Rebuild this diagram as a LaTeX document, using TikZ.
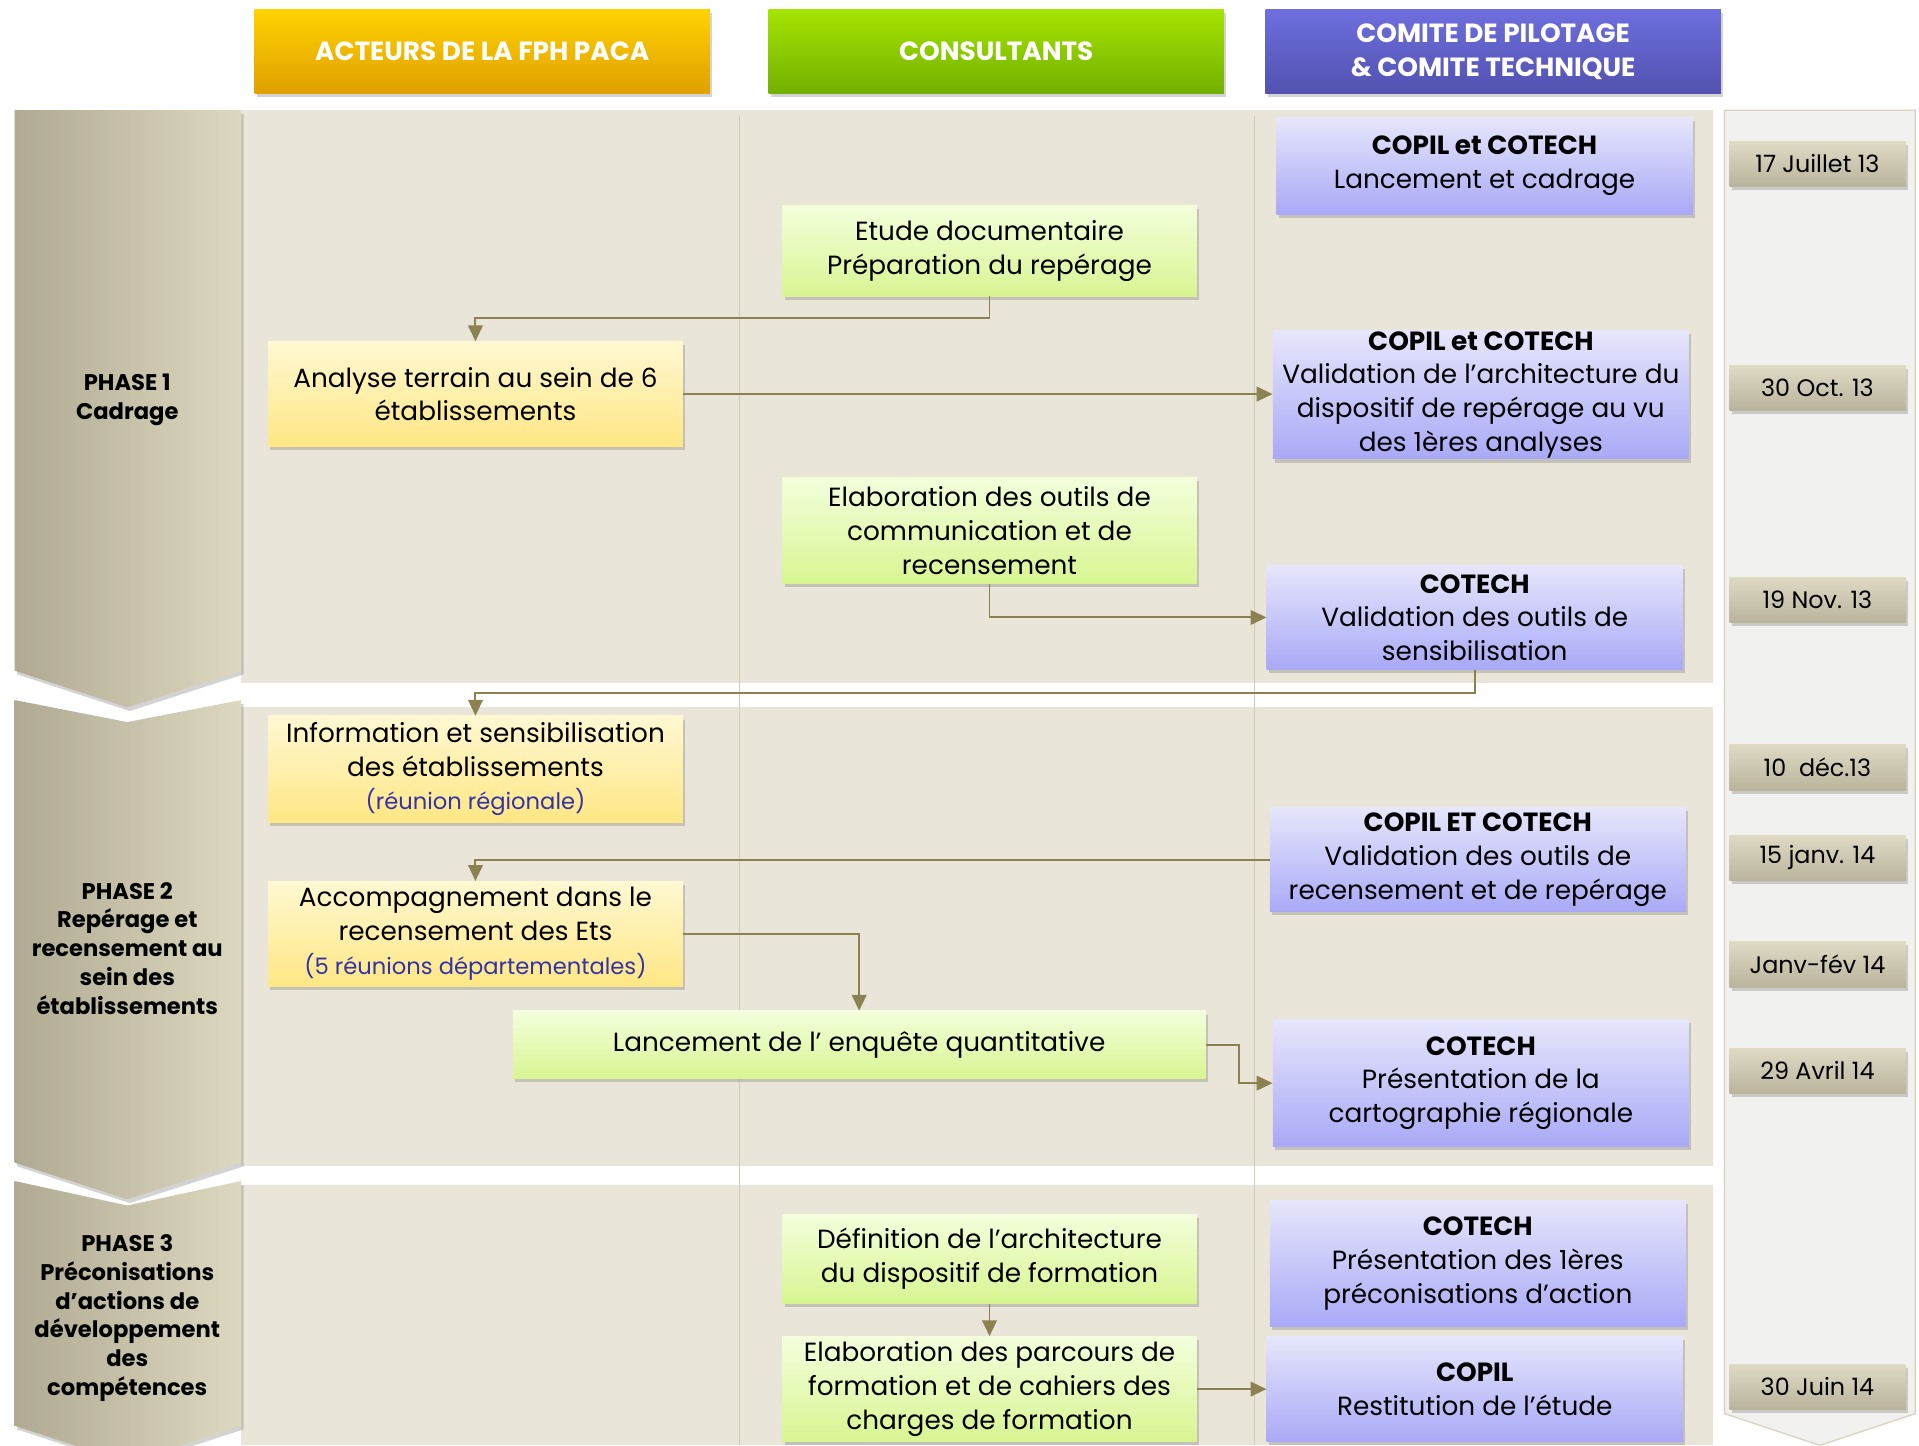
\documentclass[tikz,border=0pt]{standalone}
\usepackage{fontspec}
\setmainfont{Poppins}
\usetikzlibrary{shapes,arrows.meta,calc,positioning,shadows}

\definecolor{band}{HTML}{E9E5D9}
\definecolor{sepline}{HTML}{D2CBB4}
\definecolor{flowcol}{HTML}{8C8150}
\definecolor{phaseA}{HTML}{B0AA92}
\definecolor{phaseB}{HTML}{DDD8C0}
\definecolor{tabA}{HTML}{DEDAC4}
\definecolor{tabB}{HTML}{BAB49C}
\definecolor{datebg}{HTML}{F1F1F0}
\definecolor{datebd}{HTML}{D6D0BC}
\definecolor{yelA}{HTML}{FFF8D2}
\definecolor{yelB}{HTML}{FFE784}
\definecolor{grnA}{HTML}{F3FFDC}
\definecolor{grnB}{HTML}{D8F592}
\definecolor{purA}{HTML}{E6E6FC}
\definecolor{purB}{HTML}{A9A9F7}
\definecolor{noteblue}{HTML}{3333A8}
\definecolor{hdrorA}{HTML}{FFD200}
\definecolor{hdrorB}{HTML}{E0A000}
\definecolor{hdrgrA}{HTML}{A6E400}
\definecolor{hdrgrB}{HTML}{72B000}
\definecolor{hdrpuA}{HTML}{6E6EDE}
\definecolor{hdrpuB}{HTML}{5252B0}

\begin{document}
\begin{tikzpicture}[%
    x=1pt,
    y=-1pt,
    >={Triangle[length=13pt,width=12pt]},
    softshadow/.style={drop shadow={shadow xshift=2pt, shadow yshift=-3pt, opacity=0.35}},
    box/.style={rectangle, align=center, inner sep=0pt, softshadow,
      font=\fontsize{21.5}{27.5}\selectfont},
    actor/.style={box, top color=yelA, bottom color=yelB, minimum width=339pt},
    consult/.style={box, top color=grnA, bottom color=grnB, minimum width=339pt},
    comite/.style={box, top color=purA, bottom color=purB, minimum width=340pt},
    header/.style={rectangle, align=center, minimum width=372pt, minimum height=68pt,
      text=white, softshadow, font=\bfseries\fontsize{21.5}{28}\selectfont},
    datetab/.style={rectangle, minimum width=144pt, minimum height=37pt,
      top color=tabA, bottom color=tabB, softshadow, font=\fontsize{19.5}{22}\selectfont},
    phaselabel/.style={align=center, font=\bfseries\fontsize{18.5}{23.6}\selectfont},
    note/.style={text=noteblue},
    flow/.style={->, flowcol, line width=1.6pt}
  ]
  \useasboundingbox (0,0) rectangle (1568,1181);

  \fill[band] (197,90) rectangle (1400,558);
  \fill[band] (197,578) rectangle (1400,953);
  \fill[band] (197,968) rectangle (1400,1181);
  \draw[sepline, line width=1pt] (604,95) -- (604,1181);
  \draw[sepline, line width=1pt] (1025,95) -- (1025,1181);

  \shade[left color=phaseA, right color=phaseB, softshadow]
    (12,90) -- (197,90) -- (197,548) -- (104,578) -- (12,548) -- cycle;
  \shade[left color=phaseA, right color=phaseB, softshadow]
    (12,572) -- (104,590) -- (197,572) -- (197,950) -- (104,980) -- (12,950) -- cycle;
  \shade[left color=phaseA, right color=phaseB, softshadow]
    (12,965) -- (104,985) -- (197,965) -- (197,1165) -- (104,1195) -- (12,1165) -- cycle;
  \filldraw[fill=datebg, draw=datebd, line width=1pt]
    (1409,90) -- (1565,90) -- (1565,1155) -- (1487,1181) -- (1409,1155) -- cycle;

  \node[header, top color=hdrorA, bottom color=hdrorB] (hacteurs) at (394,42) {ACTEURS DE LA FPH PACA};
  \node[header, top color=hdrgrA, bottom color=hdrgrB] (hconsult) at (814,42) {CONSULTANTS};
  \node[header, top color=hdrpuA, bottom color=hdrpuB] (hcomite) at (1220,42) {COMITE DE PILOTAGE\\\& COMITE TECHNIQUE};

  \node[phaselabel] (phase1) at (104,327) {PHASE 1\\Cadrage};
  \node[phaselabel] (phase2) at (104,775) {PHASE 2\\Repérage et\\recensement au\\sein des\\établissements};
  \node[phaselabel] (phase3) at (104,1077) {PHASE 3\\Préconisations\\d’actions de\\développement\\des\\compétences};

  \node[datetab] (d1) at (1485,134) {17 Juillet 13};
  \node[datetab] (d2) at (1485,317) {30 Oct. 13};
  \node[datetab] (d3) at (1485,490) {19 Nov. 13};
  \node[datetab] (d4) at (1485,627) {10 \ déc.13};
  \node[datetab] (d5) at (1485,701) {15 janv. 14};
  \node[datetab] (d6) at (1485,788) {Janv-fév 14};
  \node[datetab] (d7) at (1485,875) {29 Avril 14};
  \node[datetab] (d8) at (1485,1133) {30 Juin 14};

  \node[comite, minimum height=79pt] (copil1) at (1213,135.5) {\textbf{COPIL et COTECH}\\Lancement et cadrage};
  \node[consult, minimum height=74pt] (etude) at (808.5,205) {Etude documentaire\\Préparation du repérage};
  \node[actor, minimum height=86pt] (analyse) at (388.5,322) {Analyse terrain au sein de 6\\établissements};
  \node[comite, minimum height=105pt] (copil2) at (1210,322.5) {\textbf{COPIL et COTECH}\\Validation de l’architecture du\\dispositif de repérage au vu\\des 1ères analyses};
  \node[consult, minimum height=87pt] (outils) at (808.5,433.5) {Elaboration des outils de\\communication et de\\recensement};
  \node[comite, minimum height=85pt] (cotech1) at (1205,504.5) {\textbf{COTECH}\\Validation des outils de\\sensibilisation};

  \node[actor, minimum height=87pt] (info) at (388.5,628.5) {Information et sensibilisation\\des établissements\\{\color{noteblue}\fontsize{18.5}{22}\selectfont(réunion régionale)}};
  \node[comite, minimum height=85pt] (copil3) at (1207.5,702.5) {\textbf{COPIL ET COTECH}\\Validation des outils de\\recensement et de repérage};
  \node[actor, minimum height=86pt] (accomp) at (388.5,763) {Accompagnement dans le\\recensement des Ets\\{\color{noteblue}\fontsize{18.5}{22}\selectfont(5 réunions départementales)}};
  \node[consult, minimum width=566pt, minimum height=55pt] (enquete) at (702,853.5) {Lancement de l’ enquête quantitative};
  \node[comite, minimum height=104pt] (cotech2) at (1210,885) {\textbf{COTECH}\\Présentation de la\\cartographie régionale};

  \node[consult, minimum height=73pt] (archi) at (808.5,1028.5) {Définition de l’architecture\\du dispositif de formation};
  \node[comite, minimum height=103pt] (cotech3) at (1207.5,1032.5) {\textbf{COTECH}\\Présentation des 1ères\\préconisations d’action};
  \node[consult, minimum height=86pt] (parcours) at (808.5,1135) {Elaboration des parcours de\\formation et de cahiers des\\charges de formation};
  \node[comite, minimum height=86pt] (copil4) at (1205,1135) {\textbf{COPIL}\\Restitution de l’étude};

  \draw[flow] (etude.south) -- ++(0,18) -| (analyse.north);
  \draw[flow] (analyse.east) -- (analyse.east -| copil2.west);
  \draw[flow] (outils.south) |- (cotech1.west);
  \draw[flow] (cotech1.south) -- ++(0,19) -| (info.north);
  \draw[flow] (copil3.west) -| (accomp.north);
  \draw[flow] (accomp.east) -| (enquete.north);
  \draw[flow] (enquete.east) -- ++(27,0) |- (cotech2.west);
  \draw[flow] (archi.south) -- (parcours.north);
  \draw[flow] (parcours.east) -- (copil4.west);
\end{tikzpicture}
\end{document}
